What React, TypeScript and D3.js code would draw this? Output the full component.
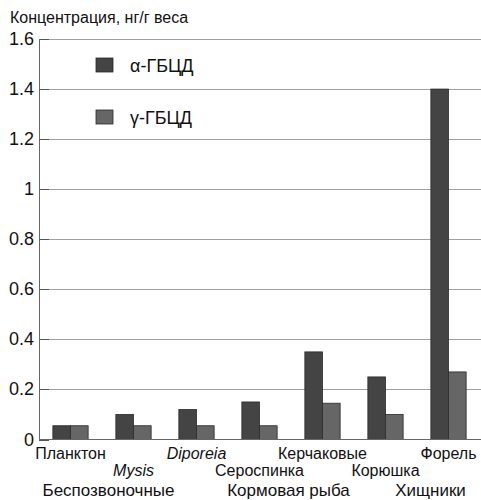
import * as d3 from 'd3';
import { type FC } from 'react';

const categories = ['Планктон', 'Mysis', 'Diporeia', 'Сероспинка', 'Керчаковые', 'Корюшка', 'Форель'];
const italicCats = ['Mysis', 'Diporeia'];
const alphaValues = [0.055, 0.1, 0.12, 0.15, 0.35, 0.25, 1.4];
const gammaValues = [0.055, 0.055, 0.055, 0.055, 0.145, 0.1, 0.27];
const seriesNames = ['α-ГБЦД', 'γ-ГБЦД'];
const seriesColors = ['#444444', '#666666'];
const yTicks = [0, 0.2, 0.4, 0.6, 0.8, 1, 1.2, 1.4, 1.6];
const groups = [
  { label: 'Беспозвоночные', from: 0, to: 2, shift: -25 },
  { label: 'Кормовая рыба', from: 3, to: 5, shift: -34 },
  { label: 'Хищники', from: 6, to: 6, shift: -18 },
];

const W = 481;
const H = 500;
const margin = { top: 39, right: 1, bottom: 60, left: 39 };
const font = 'Liberation Sans, Arial, sans-serif';

const App: FC = () => {
  const x = d3
    .scaleBand()
    .domain(categories)
    .range([margin.left, W - margin.right])
    .paddingInner(0.44)
    .paddingOuter(0.22);
  const y = d3.scaleLinear().domain([0, 1.6]).range([H - margin.bottom - 0.5, margin.top]);
  const bw = x.bandwidth() / 2;
  const series = [alphaValues, gammaValues];
  const center = (c: string) => (x(c) || 0) + x.bandwidth() / 2;

  return (
    <svg
      width={W}
      height={H}
      style={{ position: 'absolute', left: 0, top: 0, background: '#fff' }}
      fontFamily={font}
    >
      <text x={10} y={23} fontSize={16} fill="#111">
        Концентрация, нг/г веса
      </text>

      {/* grid + ticks */}
      {yTicks.map((t) => (
        <g key={t}>
          {t > 0 && (
            <line x1={margin.left} x2={W} y1={Math.round(y(t)) + 0.5} y2={Math.round(y(t)) + 0.5} stroke="#a0a0a0" />
          )}
          <line
            x1={margin.left}
            x2={margin.left + 10}
            y1={Math.round(y(t)) + 0.5}
            y2={Math.round(y(t)) + 0.5}
            stroke="#555"
          />
          <text x={34} y={y(t) + 6} textAnchor="end" fontSize={18} fill="#111">
            {t}
          </text>
        </g>
      ))}

      {/* bars */}
      {series.map((vals, si) =>
        categories.map((c, i) => (
          <rect
            key={`${si}-${c}`}
            x={(x(c) || 0) + si * bw}
            width={bw}
            y={y(vals[i])}
            height={y(0) - y(vals[i])}
            fill={seriesColors[si]}
            stroke="#2a2a2a"
            strokeWidth={0.8}
          />
        )),
      )}

      {/* axes */}
      <line x1={margin.left + 0.5} x2={margin.left + 0.5} y1={margin.top} y2={y(0)} stroke="#666" />
      <line x1={margin.left} x2={W} y1={y(0)} y2={y(0)} stroke="#666" />

      {/* legend */}
      {seriesNames.map((s, i) => (
        <g key={s} transform={`translate(96, ${58 + i * 52})`}>
          <rect width={17} height={14} fill={seriesColors[i]} stroke="#2a2a2a" strokeWidth={0.8} />
          <text x={34} y={14} fontSize={18} fill="#111">
            {s}
          </text>
        </g>
      ))}

      {/* category labels */}
      {categories.map((c, i) => (
        <text
          key={c}
          x={center(c)}
          y={i % 2 === 0 ? 459 : 476}
          textAnchor="middle"
          fontSize={16}
          fontStyle={italicCats.includes(c) ? 'italic' : 'normal'}
          fill="#111"
        >
          {c}
        </text>
      ))}

      {/* group labels */}
      {groups.map((g) => (
        <text
          key={g.label}
          x={(center(categories[g.from]) + center(categories[g.to])) / 2 + g.shift}
          y={496}
          textAnchor="middle"
          fontSize={17}
          fill="#111"
        >
          {g.label}
        </text>
      ))}
    </svg>
  );
};

export default App;
